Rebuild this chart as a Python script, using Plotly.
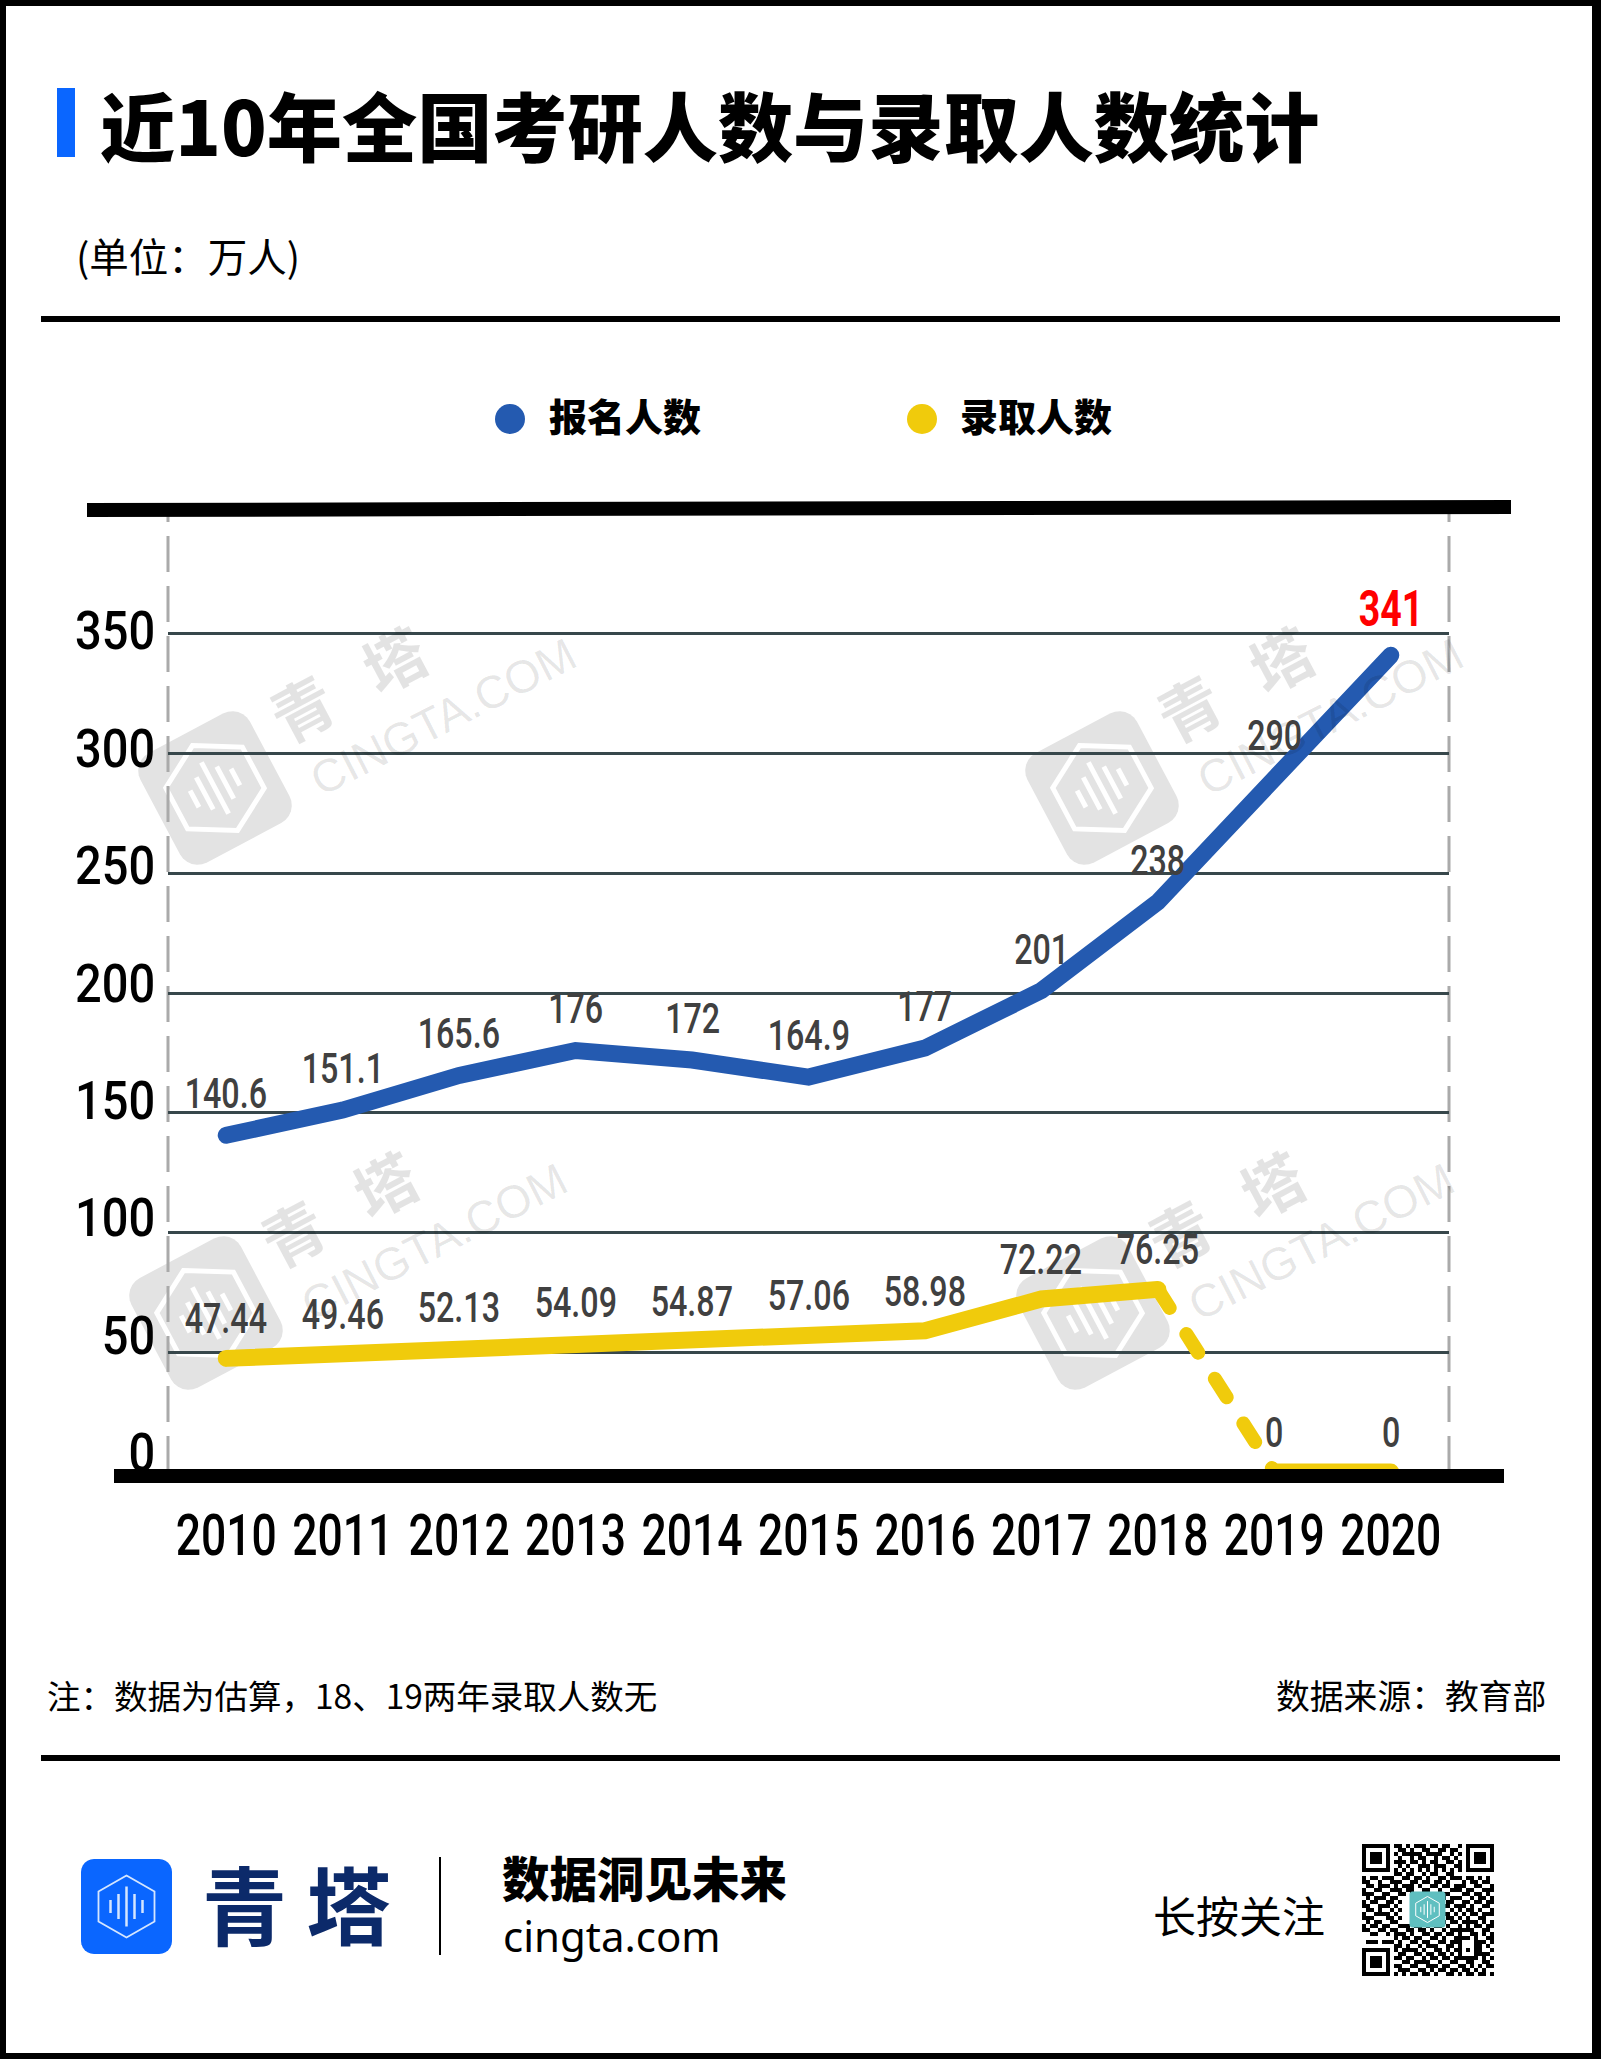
import math
import plotly.graph_objects as go

W, H = 1601, 2059

years = ["2010", "2011", "2012", "2013", "2014", "2015", "2016", "2017", "2018", "2019", "2020"]
applicants = [140.6, 151.1, 165.6, 176, 172, 164.9, 177, 201, 238, 290, 341]
admitted = [47.44, 49.46, 52.13, 54.09, 54.87, 57.06, 58.98, 72.22, 76.25, 0, 0]
applicant_labels = ["140.6", "151.1", "165.6", "176", "172", "164.9", "177", "201", "238", "290", "341"]
admitted_labels = ["47.44", "49.46", "52.13", "54.09", "54.87", "57.06", "58.98", "72.22", "76.25", "0", "0"]
y_ticks = [0, 50, 100, 150, 200, 250, 300, 350]

qr_rows = [
    "111111101101011101101100101111111",
    "100000100110100110011011001000001",
    "101110101011111011110010101011101",
    "101110100100101100101101001011101",
    "101110101110110101100110101011101",
    "100000100101001110111001101000001",
    "111111101010101010101010101111111",
    "000000001101100101100110000000000",
    "101101110011011010011011101101010",
    "110010011100110110110100010110110",
    "011011101011101001101101110011001",
    "100110011101100110010011101100111",
    "111001100110111101101100011011010",
    "010111011000000000001011100101101",
    "101100110100000000000110011011011",
    "110011101000000000001101110100110",
    "011010010100000000000010101101001",
    "100111101000000000001101010110111",
    "111000110100000000000110101001100",
    "010110011000000000001011011110101",
    "101101100111011010110100101011011",
    "110011011001101101001011111100110",
    "001100101110100110110110100110101",
    "000000001011011001101001111010011",
    "011101110100110110011011100011101",
    "000000001101001011100110100011010",
    "111111101011110100110101101011001",
    "100000100110011011011010100011110",
    "101110101101100101101101111110101",
    "101110100011011110010011001100110",
    "101110101100110011101100110101011",
    "100000100111001101011011011010100",
    "111111101010110110100110101101101",
]
qr_matrix = [[int(c) for c in r[:33].ljust(33, "0")] for r in qr_rows]

SANS = "Noto Sans CJK SC"
NUM = "Roboto"
BLUE = "#245ab0"
YELLOW = "#f0cb0c"
GRAY = "#404040"
WM = "#e3e3e3"


def px(x):
    return x / W


def py(y):
    return 1 - y / H


shapes = []
annotations = []


def rect(x0, y0, x1, y1, color, layer="below"):
    shapes.append(dict(type="rect", xref="paper", yref="paper", x0=px(x0), x1=px(x1), y0=py(y0), y1=py(y1),
                       fillcolor=color, line=dict(width=0), layer=layer))


def svg_path(points, closed=True):
    s = "M" + " L".join(f"{px(a):.5f},{py(b):.5f}" for a, b in points)
    return s + (" Z" if closed else "")


def rounded_square(cx, cy, hw, hh, r, deg, color, layer):
    t = math.radians(deg)
    pts = []
    for qx, qy, start in [(hw - r, -hh + r, -90), (hw - r, hh - r, 0), (-hw + r, hh - r, 90), (-hw + r, -hh + r, 180)]:
        for k in range(0, 7):
            a = math.radians(start + 15 * k)
            x = qx + r * math.cos(a)
            y = qy + r * math.sin(a)
            pts.append((cx + x * math.cos(t) + y * math.sin(t), cy - x * math.sin(t) + y * math.cos(t)))
    shapes.append(dict(type="path", xref="paper", yref="paper", path=svg_path(pts), fillcolor=color,
                       line=dict(width=0), layer=layer))


def logo(cx, cy, hw, hh, radius, k, hk, deg, bg, fg, hex_w, bar_w, layer):
    t = math.radians(deg)

    def rot(x, y):
        return (cx + x * math.cos(t) + y * math.sin(t), cy - x * math.sin(t) + y * math.cos(t))

    rounded_square(cx, cy, hw, hh, radius, deg, bg, layer)
    hexagon = [(0, -31), (28, -15), (28, 15), (0, 31), (-28, 15), (-28, -15)]
    shapes.append(dict(type="path", xref="paper", yref="paper",
                       path=svg_path([rot(a * hk, b * hk) for a, b in hexagon]),
                       line=dict(color=fg, width=hex_w), fillcolor="rgba(0,0,0,0)", layer=layer))
    for bx, half in [(-16, 6.5), (-8, 12.5), (0, 20), (8, 12.5), (16, 6.5)]:
        p0, p1 = rot(bx * k, -half * k), rot(bx * k, half * k)
        shapes.append(dict(type="line", xref="paper", yref="paper", x0=px(p0[0]), y0=py(p0[1]), x1=px(p1[0]),
                           y1=py(p1[1]), line=dict(color=fg, width=bar_w), layer=layer))


def label(text, x, y, size, color="#000000", weight=400, anchor="left", family=SANS, angle=0):
    annotations.append(dict(text=text, xref="paper", yref="paper", x=px(x), y=py(y),
                            xanchor=anchor, yanchor="middle", showarrow=False, textangle=angle,
                            font=dict(size=size, color=color, family=family, weight=weight)))


# page frame and rules
rect(0, 0, W, 6, "#000000")
rect(0, 2053, W, H, "#000000")
rect(0, 0, 6, H, "#000000")
rect(1592, 0, W, H, "#000000")
rect(41, 316, 1560, 322, "#000000")
rect(41, 1755, 1560, 1761, "#000000")
rect(57, 88, 75, 157, "#0a66ff")

# watermarks
for dx, dy in [(0, 0), (887, 0), (-9, 525), (878, 525)]:
    logo(215 + dx, 788 + dy, 62, 62, 20, 1.45, 1.55, 28, WM, "#ffffff", 5, 5, "below")
    label("青   塔", 347 + dx, 682 + dy, 62, "rgba(0,0,0,0.11)", 700, "center", angle=-28)
    label("CINGTA.COM", 443 + dx, 717 + dy, 46, "rgba(0,0,0,0.10)", 400, "center",
          family="Liberation Sans, Arial, sans-serif", angle=-27)

# chart frame pieces
shapes.append(dict(type="line", xref="x domain", yref="y domain", x0=0, x1=0, y0=0, y1=1,
                   line=dict(color="#aaaaaa", width=3, dash="36px,14px"), layer="below"))
shapes.append(dict(type="line", xref="x domain", yref="y domain", x0=1, x1=1, y0=0, y1=1,
                   line=dict(color="#aaaaaa", width=3, dash="36px,14px"), layer="below"))
shapes.append(dict(type="line", xref="paper", yref="paper", x0=px(87), y0=py(510), x1=px(1511), y1=py(507),
                   line=dict(color="#000000", width=14), layer="above"))
rect(114, 1469, 1504, 1483, "#000000", "above")

# legend
for cx, color in [(510, BLUE), (922, YELLOW)]:
    shapes.append(dict(type="circle", xref="paper", yref="paper", x0=px(cx - 15), x1=px(cx + 15), y0=py(434),
                       y1=py(404), fillcolor=color, line=dict(width=0), layer="above"))
label("报名人数", 547, 414, 38, weight=900)
label("录取人数", 958, 414, 38, weight=900)

# header and footer text
label("近10年全国考研人数与录取人数统计", 98, 123, 75.2, weight=900)
label("(单位：万人)", 74, 254, 39.5)
label("注：数据为估算，18、19两年录取人数无", 45, 1694, 33.5)
label("数据来源：教育部", 1548, 1694, 33.8, anchor="right")
logo(126.5, 1906.5, 45.5, 47.5, 13, 1, 1, 0, "#0a66ff", "#d5e6ff", 1.8, 2.5, "above")
label("青 塔", 296, 1901, 85, "#0c2a6a", 700, "center")
rect(439, 1857, 441, 1955, "#000000", "above")
label("数据洞见未来", 500, 1876, 47.5, weight=900)
label("cingta.com", 501, 1935, 42, family="Noto Sans")
label("长按关注", 1151, 1914, 43)
logo(1427.5, 1909.5, 18, 18, 3, 0.42, 0.42, 0, "#5fbfc0", "#ffffff", 1, 1, "above")

# data labels, in the data coordinates of each point
for i, year in enumerate(years):
    last = i == len(years) - 1
    annotations.append(dict(text=applicant_labels[i], x=i, y=applicants[i], xref="x",
                            yref="y", yshift=46 if last else 42, showarrow=False, xanchor="center", yanchor="middle",
                            font=dict(size=50 if last else 43, color="#ff0000" if last else GRAY, family=NUM,
                                      weight=700 if last else 500)))
    annotations.append(dict(text=admitted_labels[i], x=i, y=admitted[i], xref="x", yref="y", yshift=40,
                            showarrow=False, xanchor="center", yanchor="middle",
                            font=dict(size=43, color=GRAY, family=NUM, weight=500)))

fig = go.Figure()
line_style = dict(color=YELLOW, width=17)
fig.add_trace(go.Scatter(x=years[:9], y=admitted[:9], mode="lines", name="录取人数", line=line_style))
fig.add_trace(go.Scatter(x=years[8:10], y=admitted[8:10], mode="lines", name="录取人数(估算)",
                         line=dict(color=YELLOW, width=14, dash="22px,31px")))
fig.add_trace(go.Scatter(x=years[9:], y=admitted[9:], mode="lines", name="录取人数(无)", line=line_style))
fig.add_trace(go.Scatter(x=years, y=applicants, mode="lines", name="报名人数", line=dict(color=BLUE, width=17)))
# tick labels sit on a slightly tighter scale than the gridlines in the original
fig.add_trace(go.Scatter(x=years[:1], y=y_ticks[:1], yaxis="y2", mode="markers", marker=dict(opacity=0), hoverinfo="skip"))
fig.add_trace(go.Heatmap(z=qr_matrix, xaxis="x2", yaxis="y3", showscale=False, hoverinfo="skip",
                         colorscale=[[0, "#ffffff"], [1, "#000000"]], zmin=0, zmax=1))

fig.update_layout(
    width=W, height=H, autosize=False, margin=dict(l=0, r=0, t=0, b=0, pad=0), showlegend=False,
    paper_bgcolor="#ffffff", plot_bgcolor="rgba(0,0,0,0)",
    shapes=shapes, annotations=annotations,
    xaxis=dict(domain=[px(168), px(1449)], type="category", categoryorder="array", categoryarray=years,
               range=[-0.5, 10.5], showgrid=False, zeroline=False, showline=False, tickangle=0,
               ticks="outside", ticklen=14, tickcolor="rgba(0,0,0,0)", anchor="y", automargin=False,
               tickfont=dict(size=57, color="#000000", family=NUM, weight=500)),
    yaxis=dict(domain=[py(1472), py(514)], range=[0, 400], tickvals=y_ticks, showticklabels=False, ticks="",
               showgrid=True, gridcolor="#37474b", gridwidth=2.5, zeroline=False, showline=False, anchor="x"),
    yaxis2=dict(domain=[py(1472), py(514)], overlaying="y", side="left", anchor="x", range=[-8.3, 399.5],
                tickvals=y_ticks, showgrid=False, zeroline=False, showline=False, ticks="outside", ticklen=1,
                tickcolor="rgba(0,0,0,0)", automargin=False,
                tickfont=dict(size=54, color="#000000", family=NUM, weight=500)),
    xaxis2=dict(domain=[px(1362), px(1494)], range=[-0.5, 32.5], visible=False, anchor="y3"),
    yaxis3=dict(domain=[py(1976), py(1844)], range=[32.5, -0.5], visible=False, anchor="x2"),
)

post = """
document.body.style.margin = '0';
document.body.style.overflow = 'hidden';
document.querySelectorAll('.scatterlayer .js-line').forEach(function (p) { p.style.strokeLinecap = 'round'; });
function squeeze(el, s, right) {
  var b = el.getBBox();
  var c = right ? b.x + b.width : b.x + b.width / 2;
  el.setAttribute('transform', (el.getAttribute('transform') || '') +
    ' translate(' + c + ',0) scale(' + s + ',1) translate(' + (-c) + ',0)');
}
document.querySelectorAll('.xtick text').forEach(function (t) { squeeze(t, 0.78, false); });
document.querySelectorAll('.y2tick text').forEach(function (t) { squeeze(t, 0.87, true); });
document.querySelectorAll('text.annotation-text').forEach(function (t) {
  if ((t.style.fontFamily || '').indexOf('Roboto') >= 0) { squeeze(t, 0.75, false); }
});
"""
fig.write_html("out.html", post_script=post, config=dict(displayModeBar=False))
